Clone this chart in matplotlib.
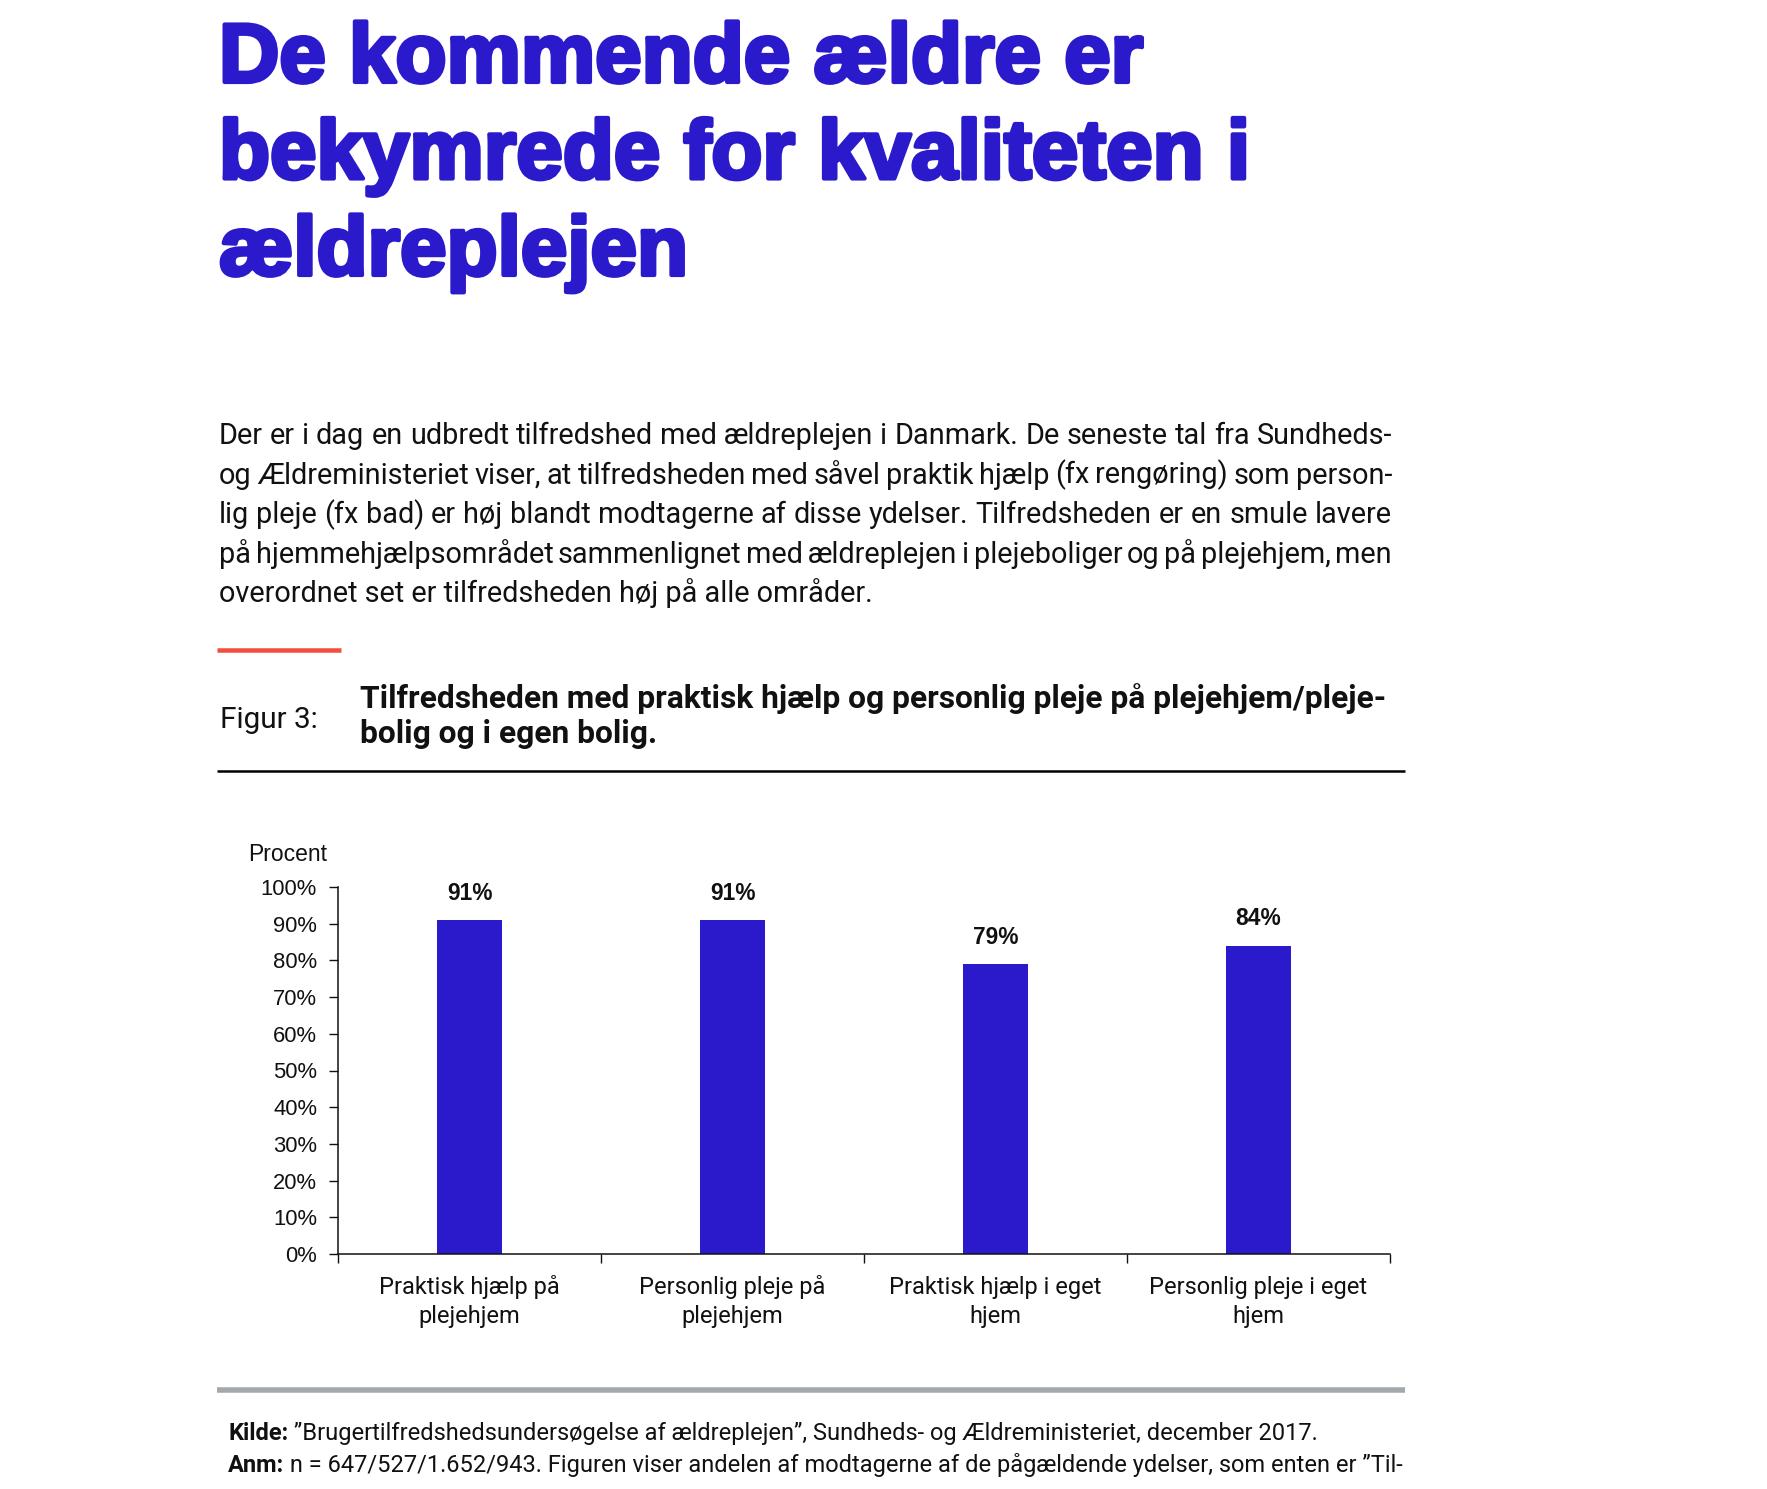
import matplotlib
matplotlib.use("Agg")
import matplotlib.pyplot as plt
import matplotlib.patheffects as pe
from matplotlib.lines import Line2D
from matplotlib.ticker import FixedLocator
import numpy as np

# ===== Data =====
title_lines = ["De kommende ældre er", "bekymrede for kvaliteten i", "ældreplejen"]
body_lines = [
    "Der er i dag en udbredt tilfredshed med ældreplejen i Danmark. De seneste tal fra Sundheds-",
    "og Ældreministeriet viser, at tilfredsheden med såvel praktik hjælp (fx rengøring) som person-",
    "lig pleje (fx bad) er høj blandt modtagerne af disse ydelser. Tilfredsheden er en smule lavere",
    "på hjemmehjælpsområdet sammenlignet med ældreplejen i plejeboliger og på plejehjem, men",
    "overordnet set er tilfredsheden høj på alle områder.",
]
fig_label = "Figur 3:"
fig_title_lines = [
    "Tilfredsheden med praktisk hjælp og personlig pleje på plejehjem/pleje-",
    "bolig og i egen bolig.",
]
categories = [
    "Praktisk hjælp på\nplejehjem",
    "Personlig pleje på\nplejehjem",
    "Praktisk hjælp i eget\nhjem",
    "Personlig pleje i eget\nhjem",
]
values = [91, 91, 79, 84]
y_ticks = list(range(0, 101, 10))
y_tick_labels = [f"{v}%" for v in y_ticks]
y_title = "Procent"
source_label = "Kilde:"
source_text = " ”Brugertilfredshedsundersøgelse af ældreplejen”, Sundheds- og Ældreministeriet, december 2017."
note_label = "Anm:"
note_text = " n = 647/527/1.652/943. Figuren viser andelen af modtagerne af de pågældende ydelser, som enten er ”Til-"

# ===== Style =====
W, H, DPI = 1767, 1489, 100
BLUE = "#2B1ACB"
RED = "#F24E3D"
GREY = "#A3A8AA"
INK = "#111111"
BODY_FONT = ["Roboto", "DejaVu Sans"]
CHART_FONT = ["Liberation Sans", "DejaVu Sans"]

fig = plt.figure(figsize=(W / DPI, H / DPI), dpi=DPI)
fig.patch.set_facecolor("white")
renderer = fig.canvas.get_renderer()


def fx(x):
    return x / W


def fy(y):
    return 1 - y / H


def width_px(s, **kw):
    t = fig.text(0, 0, s, **kw)
    w = t.get_window_extent(renderer).width
    t.remove()
    return w


def fit(s, target, **kw):
    return 20 * target / width_px(s, fontsize=20, **kw)


def put_line(x0, y, s, x1=None, **kw):
    if x1 is None:
        return fig.text(fx(x0), fy(y), s, va="baseline", **kw)
    words = s.split(" ")
    ws = [width_px(w, **kw) for w in words]
    gap = (x1 - x0 - sum(ws)) / (len(words) - 1)
    x = x0
    for w, wpx in zip(words, ws):
        fig.text(fx(x), fy(y), w, va="baseline", **kw)
        x += wpx + gap


def hline(x0, x1, y, color, lw_px):
    fig.add_artist(Line2D([fx(x0), fx(x1)], [fy(y), fy(y)], transform=fig.transFigure,
                          color=color, linewidth=lw_px * 72 / DPI, solid_capstyle="butt"))


# ===== Title =====
title_kw = dict(family=CHART_FONT, fontweight="bold", color=BLUE,
                path_effects=[pe.withStroke(linewidth=3, foreground=BLUE)])
title_size = fit(title_lines[1], 1030, **title_kw)
for i, line in enumerate(title_lines):
    put_line(219, 82 + i * 96.5, line, fontsize=title_size, **title_kw)

# ===== Body text =====
body_kw = dict(family=BODY_FONT, color=INK)
body_size = fit(body_lines[-1], 652, **body_kw)
for i, line in enumerate(body_lines):
    last = i == len(body_lines) - 1
    put_line(219, 444 + i * 39.6, line, x1=None if last else 1392, fontsize=body_size, **body_kw)

# ===== Figure header =====
hline(217, 341, 649.5, RED, 4.5)
put_line(220, 728, fig_label, fontsize=fit(fig_label, 98, **body_kw), **body_kw)
ft_kw = dict(family=BODY_FONT, fontweight="bold", color=INK)
ft_size = fit(fig_title_lines[0], 1024, **ft_kw)
put_line(360, 708, fig_title_lines[0], fontsize=ft_size, **ft_kw)
put_line(360, 743, fig_title_lines[1], fontsize=ft_size, **ft_kw)
hline(217, 1405, 771, "black", 2.5)

# ===== Chart =====
ax = fig.add_axes([fx(338), fy(1254), (1390 - 338) / W, (1254 - 887) / H])
x = np.arange(len(categories))
bars = ax.bar(x, values, width=0.25, color=BLUE)
ax.set_xlim(-0.5, len(categories) - 0.5)
ax.set_ylim(0, 100)

ax.set_yticks(y_ticks)
ax.set_yticklabels(y_tick_labels, family=CHART_FONT, fontsize=15.8, color=INK)
ax.tick_params(axis="y", length=6.5, width=1, pad=8.6, color=INK)

xl_size = fit("Praktisk hjælp på", 180, **body_kw)
ax.set_xticks(x)
ax.set_xticklabels(categories, family=BODY_FONT, fontsize=xl_size, color=INK,
                   linespacing=1.35, va="baseline")
ax.xaxis.set_minor_locator(FixedLocator(np.arange(-0.5, len(categories), 1)))
# baseline of the last label line sits ~69 px under the axis
ax.tick_params(axis="x", which="major", length=0, pad=69 * 72 / DPI)
ax.tick_params(axis="x", which="minor", length=6.5, width=1, color=INK)

for s in ["top", "right"]:
    ax.spines[s].set_visible(False)
for s in ["left", "bottom"]:
    ax.spines[s].set_linewidth(1.1)
    ax.spines[s].set_color(INK)

ax.bar_label(bars, labels=[f"{v}%" for v in values], padding=11,
             family=CHART_FONT, fontweight="bold", fontsize=16.4, color=INK)

fig.text(fx(248), fy(861), y_title, family=CHART_FONT, fontsize=16.5, color=INK, va="baseline")

# ===== Footer =====
hline(217, 1405, 1390, GREY, 5.5)
bold_kw = dict(family=BODY_FONT, fontweight="bold", color=INK)


def foot_fit(lab, txt, target):
    return 20 * target / (width_px(lab, fontsize=20, **bold_kw) + width_px(txt, fontsize=20, **body_kw))


foot_size = (foot_fit(source_label, source_text, 1089) + foot_fit(note_label, note_text, 1172)) / 2
for y, lab, txt in [(1440, source_label, source_text), (1472, note_label, note_text)]:
    put_line(228, y, lab, fontsize=foot_size, **bold_kw)
    put_line(228 + width_px(lab, fontsize=foot_size, **bold_kw), y, txt, fontsize=foot_size, **body_kw)

fig.savefig("out.png", dpi=DPI)
